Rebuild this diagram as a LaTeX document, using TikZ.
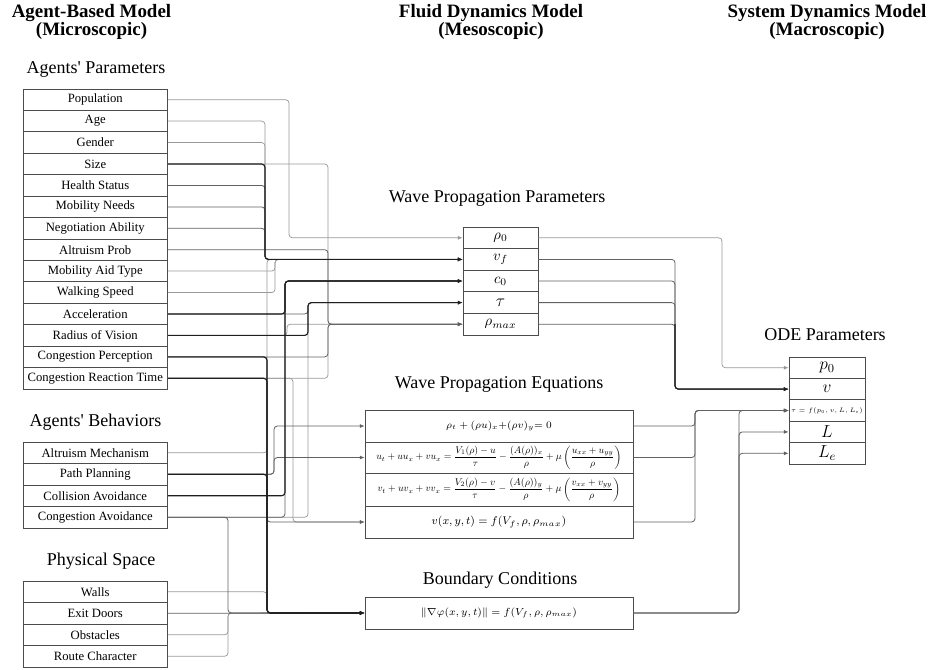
\RequirePackage{fix-cm}
\documentclass[tikz,border=0pt]{standalone}
\usepackage{amsmath}
\usepackage{graphicx}
\usepackage{fontspec}
\setmainfont{Liberation Serif}[Ligatures=TeXOff]
\usetikzlibrary{arrows.meta}
\newcommand\conn[4]{\draw[#1] (#2) -- (#2 -| #3) -- (#3 |- #4) -- (#4);}
\begin{document}
\begin{tikzpicture}[x=0.75pt,y=-0.75pt,
 box/.style={draw=black!70,line width=0.6pt,inner sep=0pt,anchor=center},
 lrow/.style={box,minimum width=108.4pt,minimum height=16.1pt,font=\rmfamily\fontsize{9.5}{11}\selectfont},
 wrow/.style={box,minimum width=56.25pt,minimum height=16.2pt,font=\fontsize{11}{12}\selectfont},
 orow/.style={box,minimum width=57pt,minimum height=16.05pt,font=\fontsize{13}{14}\selectfont},
 erow/.style={box,minimum width=201pt},
 hdr/.style={align=center,font=\rmfamily\fontsize{14.2}{13.5}\selectfont\bfseries,inner sep=0pt},
 ttl/.style={font=\rmfamily\fontsize{13.5}{15}\selectfont,inner sep=0pt},
 wbase/.style={rounded corners=2.5pt,-{Latex[length=3.6pt,width=3pt]}},
 wl/.style={wbase,draw=black!40,line width=0.55pt},
 wm/.style={wbase,draw=black!62,line width=0.6pt},
 wd/.style={wbase,draw=black!88,line width=0.85pt}]
\useasboundingbox (0,0) rectangle (930,669);
% headings
\node[hdr] (h1) at (91.5,22) {Agent-Based Model\\(Microscopic)};
\node[hdr] (h2) at (491,22) {Fluid Dynamics Model\\(Mesoscopic)};
\node[hdr] (h3) at (827,22) {System Dynamics Model\\(Macroscopic)};
\node[ttl] (t1) at (96,69) {Agents' Parameters};
\node[ttl] (t2) at (95.5,422) {Agents' Behaviors};
\node[ttl] (t3) at (101,561) {Physical Space};
\node[ttl] (t4) at (497,198) {Wave Propagation Parameters};
\node[ttl] (t5) at (499,384) {Wave Propagation Equations};
\node[ttl] (t6) at (500,580) {Boundary Conditions};
\node[ttl] (t7) at (825,335) {ODE Parameters};
% left boxes
\foreach \n/\t/\y in {p1/Population/99.7,p2/Age/121.1,p3/Gender/142.6,p4/Size/164.0,
  p5/Health Status/185.4,p6/Mobility Needs/206.9,p7/Negotiation Ability/228.3,
  p8/Altruism Prob/249.7,p9/Mobility Aid Type/271.1,p10/Walking Speed/292.6,
  p11/Acceleration/314.0,p12/Radius of Vision/335.4,p13/Congestion Perception/356.9,
  p14/Congestion Reaction Time/378.3,
  b1/Altruism Mechanism/452.75,b2/Path Planning/474.25,b3/Collision Avoidance/495.75,
  b4/Congestion Avoidance/517.25,
  s1/Walls/591.75,s2/Exit Doors/613.25,s3/Obstacles/634.75,s4/Route Character/656.25}
  {\node[lrow] (\n) at (95.25,\y) {\t};}
% wave propagation parameters
\node[wrow] (w1) at (500.5,237.8) {$\rho_0$};
\node[wrow] (w2) at (500.5,259.4) {$v_f$};
\node[wrow] (w3) at (500.5,281.0) {$c_0$};
\node[wrow] (w4) at (500.5,302.6) {\fontsize{13}{14}\selectfont$\tau$};
\node[wrow] (w5) at (500.5,324.2) {$\rho_{max}$};
% wave propagation equations
\node[erow,minimum height=24pt,font=\fontsize{7.5}{9}\selectfont] (e1) at (499,426)
  {$\rho_t+(\rho u)_x{+}(\rho v)_y{=}\;0$};
\node[erow,minimum height=23.25pt] (e2) at (499,457.5)
  {\resizebox{184pt}{!}{$\displaystyle u_t+uu_x+vu_x=\frac{V_1(\rho)-u}{\tau}-\frac{(A(\rho))_x}{\rho}+\mu\left(\frac{u_{xx}+u_{yy}}{\rho}\right)$}};
\node[erow,minimum height=24.75pt] (e3) at (499,489.5)
  {\resizebox{182pt}{!}{$\displaystyle v_t+uv_x+vv_x=\frac{V_2(\rho)-v}{\tau}-\frac{(A(\rho))_y}{\rho}+\mu\left(\frac{v_{xx}+v_{yy}}{\rho}\right)$}};
\node[erow,minimum height=24pt,font=\fontsize{8.4}{10}\selectfont] (e4) at (499,522)
  {$v(x,y,t)=f(V_f,\rho,\rho_{max})$};
\node[erow,minimum height=24pt,font=\fontsize{7.7}{10}\selectfont] (bc) at (499,613)
  {$\|\nabla\varphi(x,y,t)\|=f(V_f,\rho,\rho_{max})$};
% ODE parameters
\node[orow] (o1) at (827,367.7) {$p_0$};
\node[orow] (o2) at (827,389.1) {$v$};
\node[orow] (o3) at (827,410.5) {\fontsize{4.8}{6}\selectfont$\tau=f(p_0,v,L,L_e)$};
\node[orow] (o4) at (827,431.9) {$L$};
\node[orow] (o5) at (827,453.3) {$L_e$};
% bus coordinates
\coordinate (xa) at (289,0);
\coordinate (xb) at (265,0);
\coordinate (xc) at (267,0);
\coordinate (xd) at (275,0);
\coordinate (xe) at (274,0);
\coordinate (xf) at (285,0);
\coordinate (xg) at (287,0);
\coordinate (xh) at (293,0);
\coordinate (xi) at (308,0);
\coordinate (xj) at (328,0);
\coordinate (xk) at (228,0);
\coordinate (ra) at (722,0);
\coordinate (rb) at (675,0);
\coordinate (rc) at (695,0);
\coordinate (rd) at (739,0);
% light wires
\conn{wl}{p1.east}{xa}{w1.west}
\conn{wl}{p2.east}{xb}{w2.west}
\conn{wl}{p3.east}{xb}{w2.west}
\conn{wl}{p4.east}{xj}{w5.west}
\conn{wl}{p9.east}{xd}{w2.west}
\conn{wl}{p10.east}{xd}{w2.west}
\conn{wl}{p12.east}{xg}{w5.west}
\conn{wl}{p14.east}{xj}{w5.west}
\conn{wl}{p14.east}{xh}{e4.west}
\conn{wl}{b1.east}{xc}{w2.west}
\conn{wl}{b4.east}{xi}{w4.west}
\conn{wl}{s1.east}{xc}{bc.west}
\conn{wl}{s3.east}{xk}{bc.west}
\conn{wl}{s4.east}{xk}{bc.west}
\conn{wl}{w1.east}{ra}{o1.west}
% medium wires
\conn{wm}{p5.east}{xb}{w2.west}
\conn{wm}{p6.east}{xb}{w2.west}
\conn{wm}{p7.east}{xb}{w2.west}
\conn{wm}{p8.east}{xj}{w5.west}
\conn{wm}{p11.east}{xi}{w4.west}
\conn{wm}{p13.east}{xj}{w5.west}
\conn{wm}{p13.east}{xc}{e4.west}
\conn{wm}{b2.east}{xe}{e1.west}
\conn{wm}{b2.east}{xe}{e2.west}
\conn{wm}{b4.east}{xf}{w3.west}
\conn{wm}{b4.east}{xk}{bc.west}
\draw[wm] (s2.east) -- (bc.west);
\conn{wm}{w2.east}{rb}{o2.west}
\conn{wm}{w3.east}{rb}{o2.west}
\conn{wm}{w4.east}{rb}{o2.west}
\conn{wm}{w5.east}{rb}{o2.west}
\conn{wm}{e1.east}{rc}{o3.west}
\conn{wm}{e2.east}{rc}{o3.west}
\conn{wm}{e4.east}{rc}{o3.west}
\conn{wm}{bc.east}{rd}{o3.west}
\conn{wm}{bc.east}{rd}{o4.west}
\conn{wm}{bc.east}{rd}{o5.west}
% dark wires
\conn{wd}{p4.east}{xb}{w2.west}
\conn{wd}{p11.east}{xf}{w3.west}
\conn{wd}{p12.east}{xi}{w4.west}
\conn{wd}{p13.east}{xc}{bc.west}
\conn{wd}{p14.east}{xc}{bc.west}
\conn{wd}{b2.east}{xc}{bc.west}
\conn{wd}{b3.east}{xf}{w3.west}
\draw[wd] (w5.east -| rb) -- (rb |- o2.west) -- (o2.west);
\end{tikzpicture}
\end{document}
